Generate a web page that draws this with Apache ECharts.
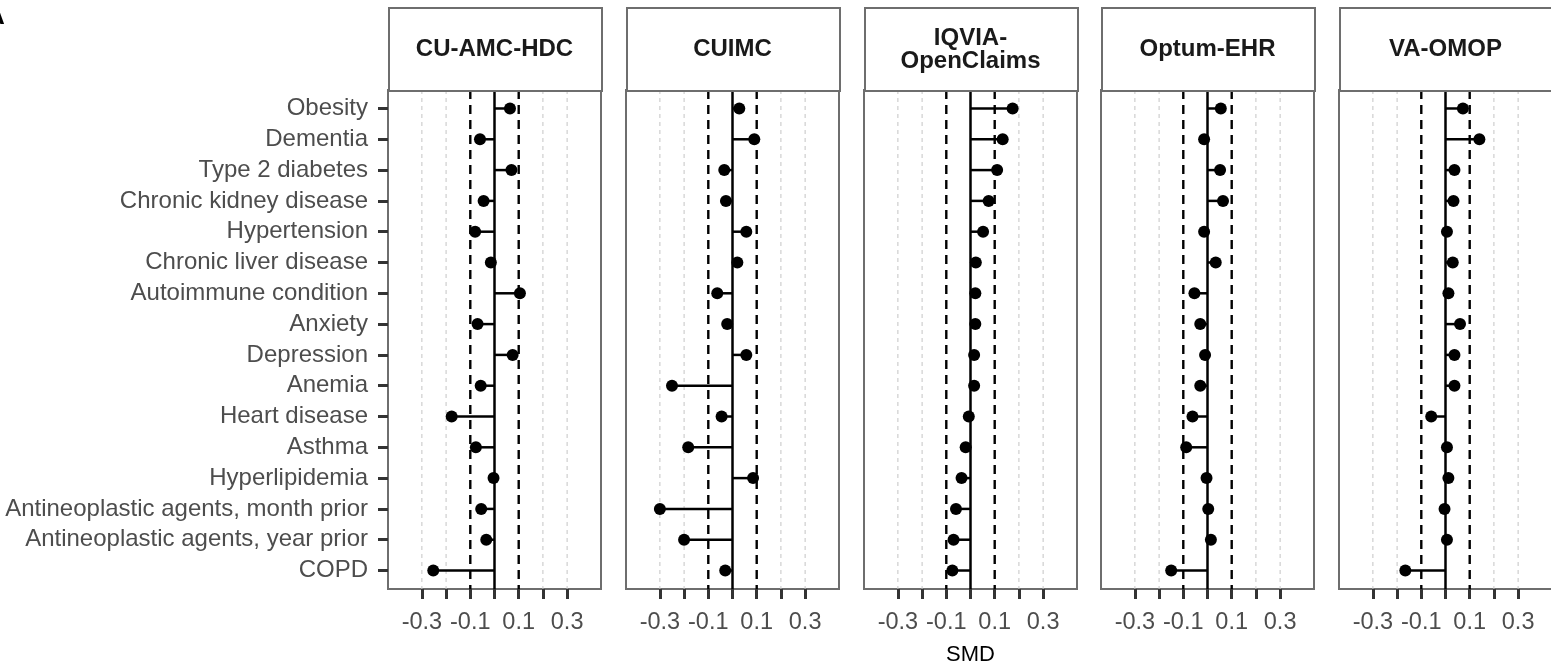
<!DOCTYPE html>
<html>
<head>
<meta charset="utf-8">
<script src="https://cdn.jsdelivr.net/npm/echarts@6/dist/echarts.min.js"></script>
<style>
html,body{margin:0;padding:0;background:#fff;}
#chart{width:1551px;height:668px;}
</style>
</head>
<body>
<div id="chart"></div>
<script>
const categories = ["Obesity","Dementia","Type 2 diabetes","Chronic kidney disease","Hypertension","Chronic liver disease","Autoimmune condition","Anxiety","Depression","Anemia","Heart disease","Asthma","Hyperlipidemia","Antineoplastic agents, month prior","Antineoplastic agents, year prior","COPD"];
const panels = ["CU-AMC-HDC","CUIMC","IQVIA-\nOpenClaims","Optum-EHR","VA-OMOP"];
const smdCUAMC  = [0.064,-0.060,0.070,-0.045,-0.080,-0.015,0.105,-0.070,0.075,-0.057,-0.177,-0.077,-0.004,-0.055,-0.034,-0.253];
const smdCUIMC  = [0.028,0.090,-0.034,-0.027,0.057,0.020,-0.063,-0.022,0.057,-0.250,-0.045,-0.183,0.085,-0.300,-0.200,-0.030];
const smdIQVIA  = [0.174,0.133,0.110,0.075,0.052,0.022,0.020,0.020,0.015,0.015,-0.007,-0.020,-0.037,-0.060,-0.070,-0.075];
const smdOptum  = [0.055,-0.014,0.052,0.064,-0.014,0.034,-0.054,-0.030,-0.010,-0.030,-0.062,-0.088,-0.004,0.003,0.014,-0.150];
const smdVA     = [0.072,0.140,0.037,0.033,0.006,0.030,0.012,0.060,0.037,0.037,-0.059,0.006,0.012,-0.004,0.006,-0.166];
const allSmd = [smdCUAMC, smdCUIMC, smdIQVIA, smdOptum, smdVA];
const tickValues = [-0.3,-0.2,-0.1,0,0.1,0.2,0.3];
const tickLabels = [-0.3,-0.1,0.1,0.3];
const grayLines = [-0.3,-0.2,0.2,0.3];
const thresholds = [-0.1,0.1];

const lefts = [388, 626, 864, 1101, 1339];
const W = 213, TOP = 90, H = 499, HEAD_TOP = 7;
const YMIN = -0.6, YMAX = 15.6;
const FONT = '"Liberation Sans", Arial, sans-serif';
const idx = categories.map((_, i) => i);

const grid = [], xAxis = [], yAxis = [], series = [], graphic = [];

function vline(v, style) {
  return {value: v, style};
}

lefts.forEach((l, p) => {
  grid.push({left: l, top: TOP, width: W, height: H, show: true, borderColor: '#6e6e6e', borderWidth: 2,
    backgroundColor: '#fff', containLabel: false, outerBoundsMode: 'none'});
  xAxis.push({
    type: 'value', gridIndex: p, min: -0.44, max: 0.44, position: 'bottom',
    axisLine: {show: false, onZero: false}, splitLine: {show: false},
    axisTick: {show: true, customValues: tickValues, length: 10, lineStyle: {color: '#333', width: 3}},
    axisLabel: {show: true, customValues: tickLabels, margin: 22, fontSize: 23.5, color: '#4d4d4d', fontFamily: FONT,
      formatter: v => (Math.round(v * 10) / 10).toFixed(1)},
    name: p === 2 ? 'SMD' : '', nameLocation: 'middle', nameGap: 55,
    nameTextStyle: {fontSize: 22, color: '#000', fontFamily: FONT}
  });
  yAxis.push({
    type: 'value', gridIndex: p, inverse: true, min: YMIN, max: YMAX, position: 'left',
    axisLine: {show: false, onZero: false}, splitLine: {show: false},
    axisTick: {show: p === 0, customValues: idx, length: 10, lineStyle: {color: '#333', width: 3}},
    axisLabel: {show: p === 0, customValues: idx, margin: 20, fontSize: 24, color: '#4d4d4d', fontFamily: FONT,
      formatter: v => categories[Math.round(v)]}
  });
  const vals = allSmd[p];
  const refs = [
    ...grayLines.map(v => vline(v, {stroke: '#c4c4c4', lineWidth: 1, lineDash: [4, 4]})),
    ...thresholds.map(v => vline(v, {stroke: '#000', lineWidth: 2.4, lineDash: [9, 6]})),
    vline(0, {stroke: '#000', lineWidth: 2.5})
  ];
  series.push({
    type: 'custom', xAxisIndex: p, yAxisIndex: p, z: 1, silent: true, animation: false,
    data: refs.map(r => [r.value]),
    renderItem: (params, api) => {
      const r = refs[params.dataIndex];
      const a = api.coord([api.value(0), YMIN]);
      const b = api.coord([api.value(0), YMAX]);
      return {type: 'line', shape: {x1: a[0], y1: a[1], x2: b[0], y2: b[1]}, style: r.style};
    }
  });
  series.push({
    type: 'custom', xAxisIndex: p, yAxisIndex: p, z: 3, silent: true, animation: false,
    data: vals.map((v, i) => [v, i]),
    renderItem: (params, api) => {
      const a = api.coord([0, api.value(1)]);
      const b = api.coord([api.value(0), api.value(1)]);
      return {type: 'line', shape: {x1: a[0], y1: a[1], x2: b[0], y2: b[1]}, style: {stroke: '#000', lineWidth: 2.5}};
    }
  });
  series.push({
    type: 'scatter', xAxisIndex: p, yAxisIndex: p, z: 4, symbol: 'circle', symbolSize: 12,
    itemStyle: {color: '#000', opacity: 1}, silent: true, animation: false,
    data: vals.map((v, i) => [v, i])
  });
  graphic.push({
    type: 'rect', left: l, top: HEAD_TOP, shape: {width: W, height: TOP - HEAD_TOP},
    style: {fill: '#fff', stroke: '#6e6e6e', lineWidth: 2}, z: 10
  });
  graphic.push({
    type: 'text', x: l + W / 2, y: (HEAD_TOP + TOP) / 2 + 1, z: 11,
    style: {text: panels[p], fill: '#1a1a1a', font: 'bold 24px ' + FONT, align: 'center', verticalAlign: 'middle', lineHeight: 23}
  });
});
graphic.push({type: 'text', x: -14, y: 4, style: {text: 'A', fill: '#000', font: 'bold 26px ' + FONT}});

const chart = echarts.init(document.getElementById('chart'), null, {renderer: 'canvas'});
chart.setOption({animation: false, backgroundColor: '#fff', grid, xAxis, yAxis, series, graphic});
</script>
</body>
</html>
